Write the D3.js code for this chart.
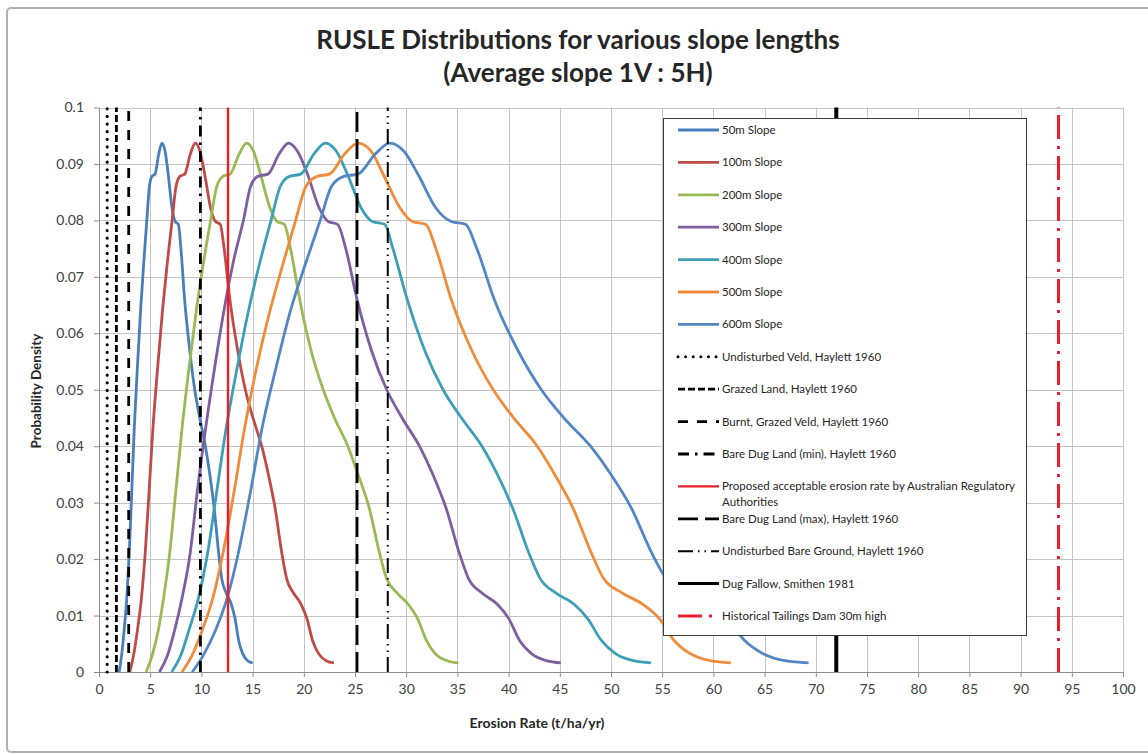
<!DOCTYPE html>
<html>
<head>
<meta charset="utf-8">
<script src="https://cdn.jsdelivr.net/npm/d3@7"></script>
<style>
  body { margin: 0; background: #fff; }
  text { font-family: "Lato", "Open Sans", sans-serif; }
</style>
</head>
<body>
<svg id="chart" width="1148" height="754"></svg>
<script>
// ---- data ----
const slopeNames = ["50m Slope", "100m Slope", "200m Slope", "300m Slope", "400m Slope", "500m Slope", "600m Slope"]

// probability density at each sampled point (same sampling for every slope curve)
const density = [0.0000, 0.0030, 0.0075, 0.0130, 0.0210, 0.0320, 0.0430, 0.0540, 0.0640, 0.0725,
  0.0800, 0.0860, 0.0878, 0.0882, 0.0918, 0.0937, 0.0922, 0.0880, 0.0822, 0.0798,
  0.0793, 0.0750, 0.0660, 0.0570, 0.0500, 0.0450, 0.0400, 0.0350, 0.0290, 0.0210,
  0.0165, 0.0140, 0.0120, 0.0095, 0.0055, 0.0033, 0.0020, 0.0016]

// erosion rate (t/ha/yr) of each sampled point, per slope length
const rate50 = [1.97, 2.21, 2.46, 2.71, 2.95, 3.20, 3.44, 3.75, 4.06, 4.37, 4.67, 4.92, 5.17, 5.47, 5.84, 6.15,
  6.46, 6.77, 7.13, 7.44, 7.75, 8.00, 8.36, 8.86, 9.35, 9.84, 10.39, 10.82, 11.25, 11.69, 11.99, 12.42,
  12.92, 13.28, 13.65, 14.02, 14.51, 15.01]
const rate100 = [3.01, 3.38, 3.76, 4.14, 4.51, 4.89, 5.26, 5.73, 6.20, 6.67, 7.14, 7.52, 7.90, 8.37, 8.93, 9.40,
  9.87, 10.34, 10.90, 11.37, 11.84, 12.22, 12.78, 13.54, 14.29, 15.04, 15.89, 16.54, 17.20, 17.86, 18.33,
  18.99, 19.74, 20.30, 20.87, 21.43, 22.18, 22.94]
const rate200 = [4.6, 5.2, 5.8, 6.3, 6.9, 7.5, 8.1, 8.8, 9.5, 10.2, 10.9, 11.5, 12.1, 12.8, 13.7, 14.4,
  15.1, 15.8, 16.7, 17.4, 18.1, 18.7, 19.6, 20.7, 21.9, 23.0, 24.3, 25.3, 26.4, 27.4, 28.1, 29.1,
  30.2, 31.1, 32.0, 32.8, 34.0, 35.1]
const rate300 = [5.9, 6.7, 7.4, 8.1, 8.9, 9.6, 10.4, 11.3, 12.2, 13.1, 14.1, 14.8, 15.5, 16.5, 17.6, 18.5,
  19.4, 20.4, 21.5, 22.4, 23.3, 24.1, 25.2, 26.6, 28.1, 29.6, 31.3, 32.6, 33.9, 35.2, 36.1, 37.4,
  38.9, 40.0, 41.1, 42.2, 43.7, 45.1]
const rate400 = [7.1, 8.0, 8.8, 9.7, 10.6, 11.5, 12.4, 13.5, 14.6, 15.7, 16.8, 17.7, 18.6, 19.7, 21.0, 22.1,
  23.2, 24.3, 25.6, 26.7, 27.9, 28.7, 30.1, 31.8, 33.6, 35.4, 37.4, 38.9, 40.4, 42.0, 43.1, 44.6,
  46.4, 47.7, 49.1, 50.4, 52.2, 53.9]
const rate500 = [8.1, 9.1, 10.1, 11.1, 12.1, 13.2, 14.2, 15.4, 16.7, 18.0, 19.2, 20.2, 21.3, 22.5, 24.0, 25.3,
  26.6, 27.8, 29.4, 30.6, 31.9, 32.9, 34.4, 36.4, 38.5, 40.5, 42.8, 44.5, 46.3, 48.1, 49.3, 51.1,
  53.1, 54.7, 56.2, 57.7, 59.7, 61.7]
const rate600 = [9.1, 10.2, 11.4, 12.5, 13.6, 14.8, 15.9, 17.3, 18.7, 20.2, 21.6, 22.7, 23.9, 25.3, 27.0, 28.4,
  29.8, 31.2, 32.9, 34.4, 35.8, 36.9, 38.6, 40.9, 43.2, 45.4, 48.0, 50.0, 52.0, 54.0, 55.4, 57.4,
  59.6, 61.3, 63.1, 64.8, 67.0, 69.3]
const slopeRates = [rate50, rate100, rate200, rate300, rate400, rate500, rate600]

// published erosion rates drawn as vertical reference lines
const refLabels = [
  "Undisturbed Veld, Haylett 1960",
  "Grazed Land, Haylett 1960",
  "Burnt, Grazed Veld, Haylett 1960",
  "Bare Dug Land (min), Haylett 1960",
  "Proposed acceptable erosion rate by Australian Regulatory Authorities",
  "Bare Dug Land (max), Haylett 1960",
  "Undisturbed Bare Ground, Haylett 1960",
  "Dug Fallow, Smithen 1981",
  "Historical Tailings Dam 30m high"
]
const refRates = [0.8, 1.7, 2.9, 9.9, 12.6, 25.2, 28.2, 72.0, 93.7]

const xTicks = d3.range(0, 101, 5)
const yTicks = d3.range(0, 0.1001, 0.01)

// ---- styles ----
const slopeColors = ["#4A7EBB", "#BE4B48", "#98B954", "#7D5FA0", "#3E9EB8", "#EE8C3C", "#5486C4"]
const refStyles = [
  {color: "#000", width: 3.2, dash: "0.01,7.6", cap: "round"},
  {color: "#000", width: 2.8, dash: "7,3"},
  {color: "#000", width: 2.8, dash: "10,9"},
  {color: "#000", width: 2.8, dash: "11,6,2.5,6"},
  {color: "#E8202A", width: 2.4, dash: null},
  {color: "#000", width: 2.8, dash: "20,7"},
  {color: "#000", width: 2, dash: "15,5,1.5,5,1.5,5"},
  {color: "#000", width: 4, dash: null},
  {color: "#E8202A", width: 3, dash: "24,7,3,7"}
]

const svg = d3.select("#chart")

// chart frame
svg.append("rect")
    .attr("x", 7).attr("y", 8)
    .attr("width", 1160).attr("height", 744)
    .attr("rx", 4)
    .attr("fill", "#fff")
    .attr("stroke", "#b0b0b0")
    .attr("stroke-width", 2)

const x = d3.scaleLinear().domain([0, 100]).range([99, 1123])
const y = d3.scaleLinear().domain([0, 0.1]).range([672, 107.5])

// gridlines
const grid = svg.append("g").attr("stroke", "#c4c4c4").attr("stroke-width", 1)
grid.selectAll(".gx").data(xTicks.slice(1)).enter()
  .append("line")
    .attr("x1", d => Math.round(x(d)) + 0.5)
    .attr("x2", d => Math.round(x(d)) + 0.5)
    .attr("y1", y(0.1))
    .attr("y2", y(0))
grid.selectAll(".gy").data(yTicks.slice(1)).enter()
  .append("line")
    .attr("x1", x(0))
    .attr("x2", x(100))
    .attr("y1", d => Math.round(y(d)) + 0.5)
    .attr("y2", d => Math.round(y(d)) + 0.5)

// axes
const xAxis = svg.append("g")
    .attr("transform", `translate(0,${y(0)})`)
    .call(d3.axisBottom(x).tickValues(xTicks).tickSize(5).tickPadding(7).tickSizeOuter(0))
const yAxis = svg.append("g")
    .attr("transform", `translate(${x(0)},0)`)
    .call(d3.axisLeft(y).tickValues(yTicks).tickSize(5).tickPadding(10).tickSizeOuter(0)
      .tickFormat(d => d < 1e-9 ? "0" : String(+d.toFixed(2))))
for (const ax of [xAxis, yAxis]) {
  ax.select(".domain").attr("stroke", "#8c8c8c")
  ax.selectAll(".tick line").attr("stroke", "#8c8c8c")
  ax.selectAll(".tick text")
      .attr("fill", "#404040")
      .style("font-family", "Lato, sans-serif")
      .style("font-size", "14px")
}

// slope curves
const line = d3.line()
    .x(d => x(d[0]))
    .y(d => y(d[1]))
    .curve(d3.curveMonotoneX)

svg.append("g").selectAll("path")
  .data(slopeRates)
  .enter()
  .append("path")
    .attr("d", rates => line(rates.map((r, i) => [r, density[i]])))
    .attr("fill", "none")
    .attr("stroke", (d, i) => slopeColors[i])
    .attr("stroke-width", 2.8)
    .attr("stroke-linejoin", "round")

// reference lines
svg.append("g").selectAll("line")
  .data(refRates)
  .enter()
  .append("line")
    .attr("x1", d => x(d))
    .attr("x2", d => x(d))
    .attr("y1", y(0))
    .attr("y2", y(0.1))
    .attr("stroke", (d, i) => refStyles[i].color)
    .attr("stroke-width", (d, i) => refStyles[i].width)
    .attr("stroke-dasharray", (d, i) => refStyles[i].dash)
    .attr("stroke-linecap", (d, i) => refStyles[i].cap || "butt")

// titles
const title = svg.append("text")
    .attr("x", 578)
    .attr("text-anchor", "middle")
    .attr("font-weight", "bold")
    .attr("font-size", 26)
    .attr("fill", "#262626")
title.append("tspan").attr("x", 578).attr("y", 49).text("RUSLE Distributions for various slope lengths")
title.append("tspan").attr("x", 578).attr("y", 82).text("(Average slope 1V : 5H)")

svg.append("text")
    .attr("x", 537)
    .attr("y", 728)
    .attr("text-anchor", "middle")
    .attr("font-weight", "bold")
    .attr("font-size", 14)
    .attr("fill", "#262626")
    .text("Erosion Rate (t/ha/yr)")

svg.append("text")
    .attr("transform", "translate(41,391) rotate(-90)")
    .attr("text-anchor", "middle")
    .attr("font-weight", "bold")
    .attr("font-size", 13.5)
    .attr("fill", "#262626")
    .text("Probability Density")

// legend
const legend = svg.append("g")
legend.append("rect")
    .attr("x", 663.5).attr("y", 118.5)
    .attr("width", 363).attr("height", 517)
    .attr("fill", "#fff")
    .attr("stroke", "#3a3a3a")

const legendRows = slopeNames.map((name, i) => ({
  label: name, color: slopeColors[i], width: 2.8, dash: null
})).concat(refLabels.map((name, i) => Object.assign({label: name}, refStyles[i])))

const rowStep = 32.4
const rows = legend.selectAll(".row")
  .data(legendRows)
  .enter()
  .append("g")
    .attr("transform", (d, i) => `translate(0,${130 + i * rowStep})`)

rows.append("line")
    .attr("x1", 678).attr("x2", 719)
    .attr("stroke", d => d.color)
    .attr("stroke-width", d => Math.min(d.width, 3))
    .attr("stroke-dasharray", d => d.dash)
    .attr("stroke-linecap", d => d.cap || "butt")

const labels = rows.append("text")
    .attr("x", 722)
    .attr("y", 4)
    .attr("font-size", 11.5)
    .attr("fill", "#262626")
labels.each(function(d) {
  // the long label wraps after "Regulatory"
  const parts = d.label.startsWith("Proposed")
    ? ["Proposed acceptable erosion rate by Australian Regulatory", "Authorities"]
    : [d.label]
  parts.forEach((p, j) => {
    d3.select(this).append("tspan").attr("x", 722).attr("dy", j === 0 ? 0 : 15.5).text(p)
  })
})
</script>
</body>
</html>
